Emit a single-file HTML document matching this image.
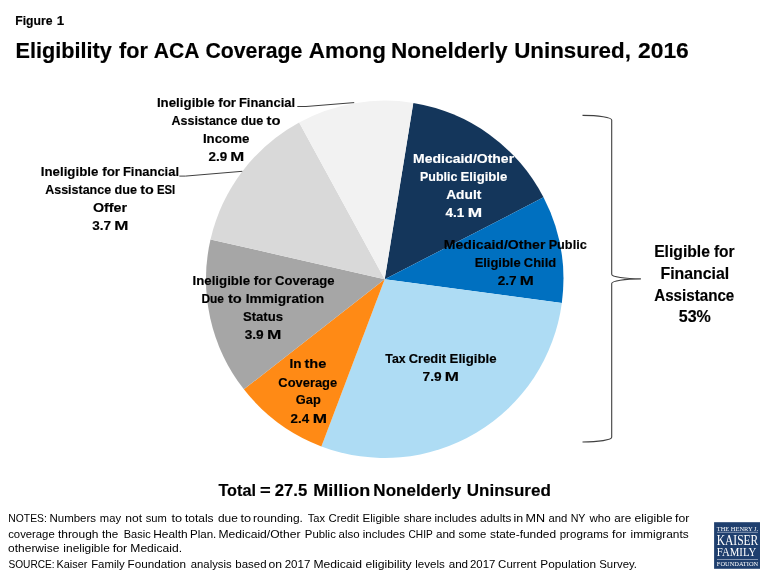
<!DOCTYPE html>
<html><head><meta charset="utf-8"><title>Figure 1</title>
<style>
html,body{margin:0;padding:0;background:#fff;}
body{width:768px;height:576px;overflow:hidden;}
svg{display:block;font-family:"Liberation Sans",sans-serif;will-change:transform;}
.b{font-weight:bold;stroke:#000;stroke-width:0.16px;}
.w{stroke:#fff;}
.lg{font-family:"Liberation Serif",serif;fill:#fff;}
</style></head><body>
<svg width="768" height="576" viewBox="0 0 768 576">
<rect width="768" height="576" fill="#fff"/>
<path d="M384.7 279.3 L413.27 102.90 A178.7 178.7 0 0 1 543.50 197.34 Z" fill="#14365B"/>
<path d="M384.7 279.3 L543.50 197.34 A178.7 178.7 0 0 1 561.83 302.93 Z" fill="#0070C0"/>
<path d="M384.7 279.3 L561.83 302.93 A178.7 178.7 0 0 1 321.39 446.41 Z" fill="#AEDCF4"/>
<path d="M384.7 279.3 L321.39 446.41 A178.7 178.7 0 0 1 243.88 389.32 Z" fill="#FF8A15"/>
<path d="M384.7 279.3 L243.88 389.32 A178.7 178.7 0 0 1 210.51 239.41 Z" fill="#A6A6A6"/>
<path d="M384.7 279.3 L210.51 239.41 A178.7 178.7 0 0 1 299.16 122.40 Z" fill="#D9D9D9"/>
<path d="M384.7 279.3 L299.16 122.40 A178.7 178.7 0 0 1 413.27 102.90 Z" fill="#F2F2F2"/>
<text class="b" x="15.28" y="24.5" font-size="13.4" textLength="37.23" lengthAdjust="spacingAndGlyphs">Figure</text>
<text class="b" x="56.74" y="24.5" font-size="13.4" textLength="7.45" lengthAdjust="spacingAndGlyphs">1</text>
<text class="b" x="15.45" y="57.8" font-size="22.0" textLength="96.27" lengthAdjust="spacingAndGlyphs">Eligibility</text>
<text class="b" x="119.03" y="57.8" font-size="22.0" textLength="28.80" lengthAdjust="spacingAndGlyphs">for</text>
<text class="b" x="153.87" y="57.8" font-size="22.0" textLength="45.68" lengthAdjust="spacingAndGlyphs">ACA</text>
<text class="b" x="205.38" y="57.8" font-size="22.0" textLength="96.95" lengthAdjust="spacingAndGlyphs">Coverage</text>
<text class="b" x="308.84" y="57.8" font-size="22.0" textLength="77.05" lengthAdjust="spacingAndGlyphs">Among</text>
<text class="b" x="390.99" y="57.8" font-size="22.0" textLength="116.63" lengthAdjust="spacingAndGlyphs">Nonelderly</text>
<text class="b" x="514.16" y="57.8" font-size="22.0" textLength="116.74" lengthAdjust="spacingAndGlyphs">Uninsured,</text>
<text class="b" x="638.01" y="57.8" font-size="22.0" textLength="50.82" lengthAdjust="spacingAndGlyphs">2016</text>
<text class="b" x="156.91" y="106.6" font-size="13.6" textLength="57.64" lengthAdjust="spacingAndGlyphs">Ineligible</text>
<text class="b" x="218.17" y="106.6" font-size="13.6" textLength="17.93" lengthAdjust="spacingAndGlyphs">for</text>
<text class="b" x="238.93" y="106.6" font-size="13.6" textLength="56.18" lengthAdjust="spacingAndGlyphs">Financial</text>
<text class="b" x="171.59" y="124.9" font-size="13.6" textLength="65.74" lengthAdjust="spacingAndGlyphs">Assistance</text>
<text class="b" x="240.88" y="124.9" font-size="13.6" textLength="22.45" lengthAdjust="spacingAndGlyphs">due</text>
<text class="b" x="266.62" y="124.9" font-size="13.6" textLength="13.96" lengthAdjust="spacingAndGlyphs">to</text>
<text class="b" x="202.91" y="142.5" font-size="13.6" textLength="46.54" lengthAdjust="spacingAndGlyphs">Income</text>
<text class="b" x="208.54" y="160.8" font-size="13.6" textLength="18.64" lengthAdjust="spacingAndGlyphs">2.9</text>
<text class="b" x="230.35" y="160.8" font-size="13.6" textLength="13.98" lengthAdjust="spacingAndGlyphs">M</text>
<text class="b" x="40.81" y="175.6" font-size="13.6" textLength="57.54" lengthAdjust="spacingAndGlyphs">Ineligible</text>
<text class="b" x="102.17" y="175.6" font-size="13.6" textLength="17.93" lengthAdjust="spacingAndGlyphs">for</text>
<text class="b" x="122.93" y="175.6" font-size="13.6" textLength="56.08" lengthAdjust="spacingAndGlyphs">Financial</text>
<text class="b" x="45.19" y="193.5" font-size="13.6" textLength="65.94" lengthAdjust="spacingAndGlyphs">Assistance</text>
<text class="b" x="114.58" y="193.5" font-size="13.6" textLength="22.45" lengthAdjust="spacingAndGlyphs">due</text>
<text class="b" x="140.32" y="193.5" font-size="13.6" textLength="13.54" lengthAdjust="spacingAndGlyphs">to</text>
<text class="b" x="156.94" y="193.5" font-size="13.6" textLength="18.32" lengthAdjust="spacingAndGlyphs">ESI</text>
<text class="b" x="92.91" y="211.7" font-size="13.6" textLength="34.20" lengthAdjust="spacingAndGlyphs">Offer</text>
<text class="b" x="92.19" y="229.8" font-size="13.6" textLength="18.85" lengthAdjust="spacingAndGlyphs">3.7</text>
<text class="b" x="114.16" y="229.8" font-size="13.6" textLength="14.18" lengthAdjust="spacingAndGlyphs">M</text>
<text class="b" x="192.51" y="284.5" font-size="13.6" textLength="57.54" lengthAdjust="spacingAndGlyphs">Ineligible</text>
<text class="b" x="253.87" y="284.5" font-size="13.6" textLength="17.93" lengthAdjust="spacingAndGlyphs">for</text>
<text class="b" x="274.96" y="284.5" font-size="13.6" textLength="59.58" lengthAdjust="spacingAndGlyphs">Coverage</text>
<text class="b" x="201.40" y="302.6" font-size="13.6" textLength="22.61" lengthAdjust="spacingAndGlyphs">Due</text>
<text class="b" x="227.92" y="302.6" font-size="13.6" textLength="13.85" lengthAdjust="spacingAndGlyphs">to</text>
<text class="b" x="245.68" y="302.6" font-size="13.6" textLength="78.57" lengthAdjust="spacingAndGlyphs">Immigration</text>
<text class="b" x="242.92" y="320.6" font-size="13.6" textLength="40.12" lengthAdjust="spacingAndGlyphs">Status</text>
<text class="b" x="244.69" y="339.0" font-size="13.6" textLength="19.02" lengthAdjust="spacingAndGlyphs">3.9</text>
<text class="b" x="266.97" y="339.0" font-size="13.6" textLength="14.38" lengthAdjust="spacingAndGlyphs">M</text>
<text class="b" x="289.59" y="368.4" font-size="13.6" textLength="12.05" lengthAdjust="spacingAndGlyphs">In</text>
<text class="b" x="304.52" y="368.4" font-size="13.6" textLength="21.88" lengthAdjust="spacingAndGlyphs">the</text>
<text class="b" x="278.37" y="386.7" font-size="13.6" textLength="58.77" lengthAdjust="spacingAndGlyphs">Coverage</text>
<text class="b" x="295.87" y="404.4" font-size="13.6" textLength="24.95" lengthAdjust="spacingAndGlyphs">Gap</text>
<text class="b" x="290.54" y="422.7" font-size="13.6" textLength="18.63" lengthAdjust="spacingAndGlyphs">2.4</text>
<text class="b" x="312.85" y="422.7" font-size="13.6" textLength="14.30" lengthAdjust="spacingAndGlyphs">M</text>
<text class="b" x="385.27" y="363.0" font-size="13.6" textLength="20.32" lengthAdjust="spacingAndGlyphs">Tax</text>
<text class="b" x="408.77" y="363.0" font-size="13.6" textLength="37.39" lengthAdjust="spacingAndGlyphs">Credit</text>
<text class="b" x="449.62" y="363.0" font-size="13.6" textLength="46.93" lengthAdjust="spacingAndGlyphs">Eligible</text>
<text class="b" x="422.61" y="381.0" font-size="13.6" textLength="18.98" lengthAdjust="spacingAndGlyphs">7.9</text>
<text class="b" x="444.80" y="381.0" font-size="13.6" textLength="14.14" lengthAdjust="spacingAndGlyphs">M</text>
<text class="b w" x="413.06" y="162.8" font-size="13.6" textLength="101.05" lengthAdjust="spacingAndGlyphs" fill="#fff">Medicaid/Other</text>
<text class="b w" x="420.07" y="181.1" font-size="13.6" textLength="37.30" lengthAdjust="spacingAndGlyphs" fill="#fff">Public</text>
<text class="b w" x="460.62" y="181.1" font-size="13.6" textLength="46.63" lengthAdjust="spacingAndGlyphs" fill="#fff">Eligible</text>
<text class="b w" x="446.16" y="198.7" font-size="13.6" textLength="35.21" lengthAdjust="spacingAndGlyphs" fill="#fff">Adult</text>
<text class="b w" x="445.49" y="217.0" font-size="13.6" textLength="18.83" lengthAdjust="spacingAndGlyphs" fill="#fff">4.1</text>
<text class="b w" x="467.73" y="217.0" font-size="13.6" textLength="14.42" lengthAdjust="spacingAndGlyphs" fill="#fff">M</text>
<text class="b" x="443.76" y="248.9" font-size="13.6" textLength="101.65" lengthAdjust="spacingAndGlyphs">Medicaid/Other</text>
<text class="b" x="548.65" y="248.9" font-size="13.6" textLength="38.12" lengthAdjust="spacingAndGlyphs">Public</text>
<text class="b" x="474.63" y="267.3" font-size="13.6" textLength="46.01" lengthAdjust="spacingAndGlyphs">Eligible</text>
<text class="b" x="523.87" y="267.3" font-size="13.6" textLength="32.28" lengthAdjust="spacingAndGlyphs">Child</text>
<text class="b" x="497.73" y="285.0" font-size="13.6" textLength="18.85" lengthAdjust="spacingAndGlyphs">2.7</text>
<text class="b" x="519.67" y="285.0" font-size="13.6" textLength="14.06" lengthAdjust="spacingAndGlyphs">M</text>
<text class="b" x="654.15" y="257.3" font-size="16.6" textLength="55.79" lengthAdjust="spacingAndGlyphs">Eligible</text>
<text class="b" x="713.93" y="257.3" font-size="16.6" textLength="20.70" lengthAdjust="spacingAndGlyphs">for</text>
<text class="b" x="660.44" y="278.8" font-size="16.6" textLength="68.79" lengthAdjust="spacingAndGlyphs">Financial</text>
<text class="b" x="654.22" y="300.6" font-size="16.6" textLength="80.05" lengthAdjust="spacingAndGlyphs">Assistance</text>
<text class="b" x="678.71" y="322.3" font-size="16.6" textLength="32.12" lengthAdjust="spacingAndGlyphs">53%</text>
<text class="b" x="218.42" y="495.8" font-size="17" textLength="37.59" lengthAdjust="spacingAndGlyphs">Total</text>
<text class="b" x="260.04" y="495.8" font-size="17" textLength="10.71" lengthAdjust="spacingAndGlyphs">=</text>
<text class="b" x="274.72" y="495.8" font-size="17" textLength="32.44" lengthAdjust="spacingAndGlyphs">27.5</text>
<text class="b" x="313.20" y="495.8" font-size="17" textLength="57.02" lengthAdjust="spacingAndGlyphs">Million</text>
<text class="b" x="373.36" y="495.8" font-size="17" textLength="87.93" lengthAdjust="spacingAndGlyphs">Nonelderly</text>
<text class="b" x="466.78" y="495.8" font-size="17" textLength="84.04" lengthAdjust="spacingAndGlyphs">Uninsured</text>
<polyline points="297.3,106.5 306,106.5 354.2,102.6" fill="none" stroke="#404040" stroke-width="1"/>
<polyline points="179.3,176.1 185.4,176.1 242.3,171.3" fill="none" stroke="#404040" stroke-width="1"/>
<path d="M582.5 115.4 A29.2 4.7 0 0 1 611.7 120.1 L611.7 274.2 A29.2 4.7 0 0 0 640.9 278.9 A29.2 4.7 0 0 0 611.7 283.6 L611.7 437.3 A29.2 4.7 0 0 1 582.5 442" fill="none" stroke="#404040" stroke-width="1.1"/>
<text class="n" x="8.27" y="522.4" font-size="11.5" textLength="38.56" lengthAdjust="spacingAndGlyphs">NOTES:</text>
<text class="n" x="49.48" y="522.4" font-size="11.5" textLength="46.62" lengthAdjust="spacingAndGlyphs">Numbers</text>
<text class="n" x="99.85" y="522.4" font-size="11.5" textLength="21.17" lengthAdjust="spacingAndGlyphs">may</text>
<text class="n" x="125.22" y="522.4" font-size="11.5" textLength="16.84" lengthAdjust="spacingAndGlyphs">not</text>
<text class="n" x="145.71" y="522.4" font-size="11.5" textLength="21.10" lengthAdjust="spacingAndGlyphs">sum</text>
<text class="n" x="171.54" y="522.4" font-size="11.5" textLength="10.66" lengthAdjust="spacingAndGlyphs">to</text>
<text class="n" x="184.91" y="522.4" font-size="11.5" textLength="28.74" lengthAdjust="spacingAndGlyphs">totals</text>
<text class="n" x="217.97" y="522.4" font-size="11.5" textLength="19.88" lengthAdjust="spacingAndGlyphs">due</text>
<text class="n" x="240.42" y="522.4" font-size="11.5" textLength="10.61" lengthAdjust="spacingAndGlyphs">to</text>
<text class="n" x="253.03" y="522.4" font-size="11.5" textLength="49.85" lengthAdjust="spacingAndGlyphs">rounding.</text>
<text class="n" x="307.76" y="522.4" font-size="11.5" textLength="17.36" lengthAdjust="spacingAndGlyphs">Tax</text>
<text class="n" x="328.49" y="522.4" font-size="11.5" textLength="30.32" lengthAdjust="spacingAndGlyphs">Credit</text>
<text class="n" x="362.52" y="522.4" font-size="11.5" textLength="37.33" lengthAdjust="spacingAndGlyphs">Eligible</text>
<text class="n" x="403.68" y="522.4" font-size="11.5" textLength="28.03" lengthAdjust="spacingAndGlyphs">share</text>
<text class="n" x="434.46" y="522.4" font-size="11.5" textLength="42.22" lengthAdjust="spacingAndGlyphs">includes</text>
<text class="n" x="480.05" y="522.4" font-size="11.5" textLength="31.33" lengthAdjust="spacingAndGlyphs">adults</text>
<text class="n" x="513.62" y="522.4" font-size="11.5" textLength="9.64" lengthAdjust="spacingAndGlyphs">in</text>
<text class="n" x="525.47" y="522.4" font-size="11.5" textLength="19.56" lengthAdjust="spacingAndGlyphs">MN</text>
<text class="n" x="548.50" y="522.4" font-size="11.5" textLength="18.85" lengthAdjust="spacingAndGlyphs">and</text>
<text class="n" x="570.65" y="522.4" font-size="11.5" textLength="14.85" lengthAdjust="spacingAndGlyphs">NY</text>
<text class="n" x="589.50" y="522.4" font-size="11.5" textLength="21.10" lengthAdjust="spacingAndGlyphs">who</text>
<text class="n" x="614.36" y="522.4" font-size="11.5" textLength="16.81" lengthAdjust="spacingAndGlyphs">are</text>
<text class="n" x="634.62" y="522.4" font-size="11.5" textLength="37.78" lengthAdjust="spacingAndGlyphs">eligible</text>
<text class="n" x="675.03" y="522.4" font-size="11.5" textLength="14.27" lengthAdjust="spacingAndGlyphs">for</text>
<text class="n" x="8.20" y="537.5" font-size="11.5" textLength="46.51" lengthAdjust="spacingAndGlyphs">coverage</text>
<text class="n" x="57.91" y="537.5" font-size="11.5" textLength="40.58" lengthAdjust="spacingAndGlyphs">through</text>
<text class="n" x="102.05" y="537.5" font-size="11.5" textLength="16.25" lengthAdjust="spacingAndGlyphs">the</text>
<text class="n" x="123.74" y="537.5" font-size="11.5" textLength="26.91" lengthAdjust="spacingAndGlyphs">Basic</text>
<text class="n" x="153.23" y="537.5" font-size="11.5" textLength="34.44" lengthAdjust="spacingAndGlyphs">Health</text>
<text class="n" x="189.99" y="537.5" font-size="11.5" textLength="26.32" lengthAdjust="spacingAndGlyphs">Plan.</text>
<text class="n" x="218.45" y="537.5" font-size="11.5" textLength="82.01" lengthAdjust="spacingAndGlyphs">Medicaid/Other</text>
<text class="n" x="304.83" y="537.5" font-size="11.5" textLength="31.01" lengthAdjust="spacingAndGlyphs">Public</text>
<text class="n" x="338.54" y="537.5" font-size="11.5" textLength="21.12" lengthAdjust="spacingAndGlyphs">also</text>
<text class="n" x="362.71" y="537.5" font-size="11.5" textLength="42.32" lengthAdjust="spacingAndGlyphs">includes</text>
<text class="n" x="408.55" y="537.5" font-size="11.5" textLength="24.23" lengthAdjust="spacingAndGlyphs">CHIP</text>
<text class="n" x="435.94" y="537.5" font-size="11.5" textLength="19.38" lengthAdjust="spacingAndGlyphs">and</text>
<text class="n" x="458.48" y="537.5" font-size="11.5" textLength="27.72" lengthAdjust="spacingAndGlyphs">some</text>
<text class="n" x="489.94" y="537.5" font-size="11.5" textLength="66.16" lengthAdjust="spacingAndGlyphs">state-funded</text>
<text class="n" x="559.67" y="537.5" font-size="11.5" textLength="49.02" lengthAdjust="spacingAndGlyphs">programs</text>
<text class="n" x="612.01" y="537.5" font-size="11.5" textLength="14.22" lengthAdjust="spacingAndGlyphs">for</text>
<text class="n" x="630.60" y="537.5" font-size="11.5" textLength="58.04" lengthAdjust="spacingAndGlyphs">immigrants</text>
<text class="n" x="8.14" y="552.4" font-size="11.5" textLength="51.15" lengthAdjust="spacingAndGlyphs">otherwise</text>
<text class="n" x="63.36" y="552.4" font-size="11.5" textLength="46.41" lengthAdjust="spacingAndGlyphs">ineligible</text>
<text class="n" x="112.68" y="552.4" font-size="11.5" textLength="14.58" lengthAdjust="spacingAndGlyphs">for</text>
<text class="n" x="130.33" y="552.4" font-size="11.5" textLength="51.75" lengthAdjust="spacingAndGlyphs">Medicaid.</text>
<text class="n" x="8.41" y="568.1" font-size="11.5" textLength="46.24" lengthAdjust="spacingAndGlyphs">SOURCE:</text>
<text class="n" x="56.46" y="568.1" font-size="11.5" textLength="31.06" lengthAdjust="spacingAndGlyphs">Kaiser</text>
<text class="n" x="91.17" y="568.1" font-size="11.5" textLength="33.55" lengthAdjust="spacingAndGlyphs">Family</text>
<text class="n" x="127.49" y="568.1" font-size="11.5" textLength="58.52" lengthAdjust="spacingAndGlyphs">Foundation</text>
<text class="n" x="190.84" y="568.1" font-size="11.5" textLength="40.75" lengthAdjust="spacingAndGlyphs">analysis</text>
<text class="n" x="235.37" y="568.1" font-size="11.5" textLength="31.16" lengthAdjust="spacingAndGlyphs">based</text>
<text class="n" x="268.47" y="568.1" font-size="11.5" textLength="13.53" lengthAdjust="spacingAndGlyphs">on</text>
<text class="n" x="284.71" y="568.1" font-size="11.5" textLength="25.68" lengthAdjust="spacingAndGlyphs">2017</text>
<text class="n" x="313.45" y="568.1" font-size="11.5" textLength="48.49" lengthAdjust="spacingAndGlyphs">Medicaid</text>
<text class="n" x="365.56" y="568.1" font-size="11.5" textLength="46.19" lengthAdjust="spacingAndGlyphs">eligibility</text>
<text class="n" x="415.26" y="568.1" font-size="11.5" textLength="29.62" lengthAdjust="spacingAndGlyphs">levels</text>
<text class="n" x="448.66" y="568.1" font-size="11.5" textLength="19.43" lengthAdjust="spacingAndGlyphs">and</text>
<text class="n" x="469.99" y="568.1" font-size="11.5" textLength="25.42" lengthAdjust="spacingAndGlyphs">2017</text>
<text class="n" x="498.11" y="568.1" font-size="11.5" textLength="38.28" lengthAdjust="spacingAndGlyphs">Current</text>
<text class="n" x="540.38" y="568.1" font-size="11.5" textLength="55.73" lengthAdjust="spacingAndGlyphs">Population</text>
<text class="n" x="599.28" y="568.1" font-size="11.5" textLength="37.75" lengthAdjust="spacingAndGlyphs">Survey.</text>
<rect x="714.1" y="522.2" width="45.9" height="46.6" fill="#1F3F6E"/>
<text class="lg" x="716.79" y="530.7" font-size="6.9" textLength="41.33" lengthAdjust="spacingAndGlyphs" fill="#fff">THE HENRY J.</text>
<text class="lg" x="716.67" y="544.7" font-size="13.6" textLength="41.65" lengthAdjust="spacingAndGlyphs" fill="#fff">KAISER</text>
<text class="lg" x="716.70" y="556.3" font-size="13" textLength="39.56" lengthAdjust="spacingAndGlyphs" fill="#fff">FAMILY</text>
<text class="lg" x="716.82" y="565.8" font-size="6.5" textLength="41.33" lengthAdjust="spacingAndGlyphs" fill="#fff">FOUNDATION</text>
<line x1="717" x2="758" y1="532.3" y2="532.3" stroke="#c9d2e0" stroke-width="0.6"/>
<line x1="717" x2="758" y1="559.5" y2="559.5" stroke="#c9d2e0" stroke-width="0.6"/>
</svg>
</body></html>
